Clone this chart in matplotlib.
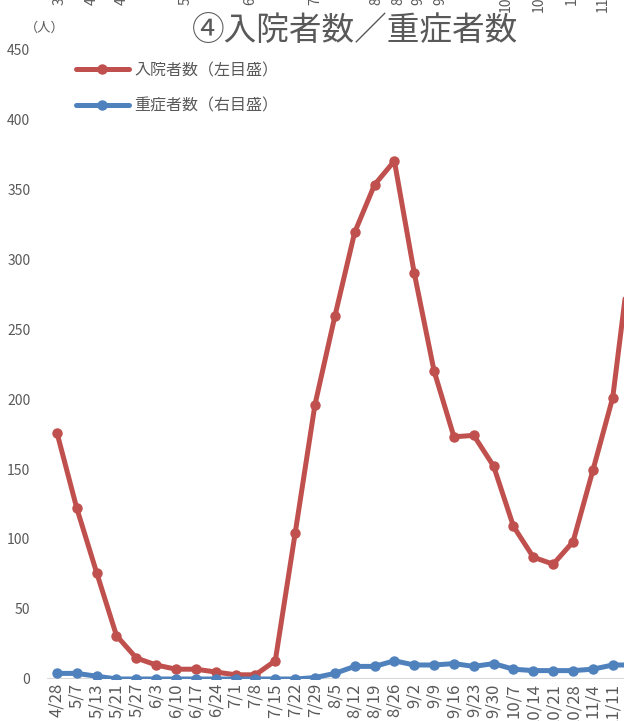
import matplotlib
matplotlib.use("Agg")
import matplotlib.pyplot as plt

plt.rcParams['font.family'] = ['Noto Sans CJK JP', 'DejaVu Sans']

dates = ["4/28", "5/7", "5/13", "5/21", "5/27", "6/3", "6/10", "6/17", "6/24", "7/1",
         "7/8", "7/15", "7/22", "7/29", "8/5", "8/12", "8/19", "8/26", "9/2", "9/9",
         "9/16", "9/23", "9/30", "10/7", "10/14", "10/21", "10/28", "11/4", "11/11", "11/18"]
hospitalized = [176, 122, 76, 31, 15, 10, 7, 7, 5, 3,
                3, 13, 104, 196, 259, 319, 353, 370, 290, 220,
                173, 174, 152, 109, 87, 82, 98, 149, 201, 315]
severe = [4, 4, 2, 0, 0, 0, 0, 0, 0, 0,
          0, 0, 0, 1, 4, 9, 9, 13, 10, 10,
          11, 9, 11, 7, 6, 6, 6, 7, 10, 10]
yticks = [0, 50, 100, 150, 200, 250, 300, 350, 400, 450]
top_remnants = ["3", "4", "4", "5", "6", "7", "8", "8", "9", "9", "10", "10", "1", "11"]
top_remnant_x = [60, 92, 122, 186, 250, 315, 376, 398, 418, 440, 506, 539, 572, 603]

RED = "#C0504D"
BLUE = "#4F81BD"
GRAY = "#595959"

W, H = 624, 721
fig = plt.figure(figsize=(W / 100, H / 100), dpi=100)

n = len(dates)
step = 19.85
left_px, bottom_px, top_px = 47, 679, 49
ax = fig.add_axes([left_px / W, (H - bottom_px) / H, n * step / W, (bottom_px - top_px) / H])
ax2 = ax.twinx()

x = list(range(n))
l1, = ax.plot(x, hospitalized, color=RED, lw=3.6, marker='o', ms=6.5,
              solid_capstyle='round', solid_joinstyle='round', label="入院者数（左目盛）", zorder=3)
l2, = ax2.plot(x, severe, color=BLUE, lw=3.6, marker='o', ms=6.5,
               solid_capstyle='round', solid_joinstyle='round', label="重症者数（右目盛）", zorder=3)

ax.set_xlim(-0.5, n - 0.5)
ax.set_ylim(0, 450)
ax2.set_ylim(0, 450)
ax.set_yticks(yticks)
ax.set_yticklabels([str(v) for v in yticks], fontsize=10, color=GRAY)
ax2.set_yticks([])
ax.set_xticks(x)
ax.set_xticklabels(dates, rotation=90, fontsize=12, color=GRAY, va='top', ha='center')
ax.tick_params(axis='both', length=0)
ax.tick_params(axis='x', pad=3)
ax.tick_params(axis='y', pad=12)
for a in (ax, ax2):
    for s in ['top', 'right', 'left', 'bottom']:
        a.spines[s].set_visible(False)
ax.axhline(0, color="#D9D9D9", lw=1.5, zorder=1)
ax2.set_zorder(ax.get_zorder() + 1)
ax2.patch.set_visible(False)

leg = fig.legend(handles=[l1, l2], loc='upper left', bbox_to_anchor=(76 / W, 1 - 62 / H),
                 frameon=False, fontsize=11.5, borderpad=0, borderaxespad=0,
                 handlelength=3.3, handletextpad=0.35, labelspacing=1.15)
for t in leg.get_texts():
    t.set_color(GRAY)

fig.text(355 / W, 1 - 31 / H, "④入院者数／重症者数", fontsize=23.5, color=GRAY,
         ha='center', va='center')
fig.text(45 / W, 1 - 28 / H, "（人）", fontsize=9.5, color=GRAY, ha='center', va='center')

for s, xp in zip(top_remnants, top_remnant_x):
    yb = 5 if len(s) == 1 else 12
    fig.text(xp / W, 1 - yb / H, s, rotation=90, fontsize=10, color=GRAY,
             ha='center', va='bottom')

fig.savefig("out.png", dpi=100)
